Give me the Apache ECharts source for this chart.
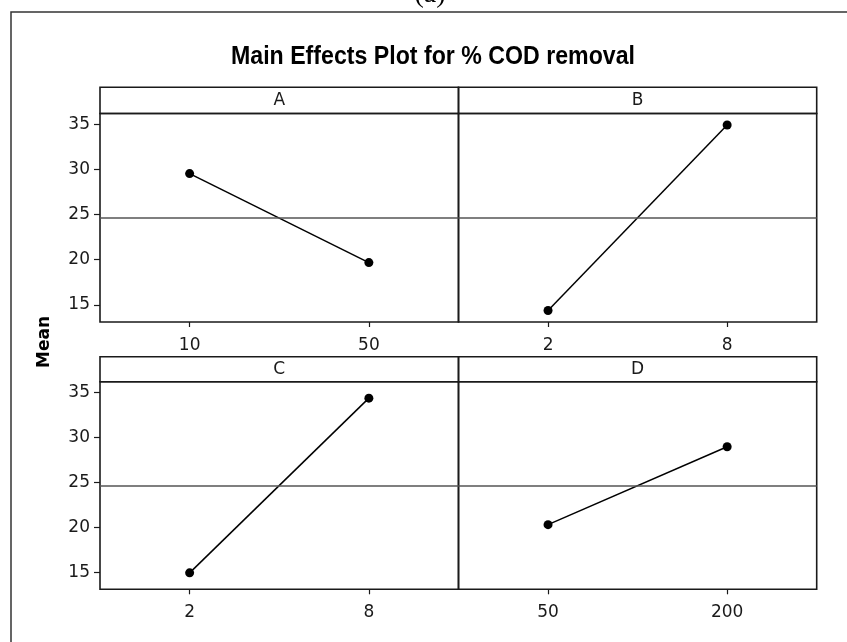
<!DOCTYPE html>
<html>
<head>
<meta charset="utf-8">
<script src="https://cdn.jsdelivr.net/npm/echarts@6/dist/echarts.min.js"></script>
<style>html,body{margin:0;padding:0;background:#fff}#c{width:847px;height:642px}</style>
</head>
<body>
<div id="c"></div>
<script>
// ---- data ----
const panelNames = ['A', 'B', 'C', 'D'];
const levelsA = ['10', '50'];
const levelsB = ['2', '8'];
const levelsC = ['2', '8'];
const levelsD = ['50', '200'];
const meansA = [29.54, 19.68];
const meansB = [14.38, 34.92];
const meansC = [14.93, 34.37];
const meansD = [20.29, 28.96];
const grandMean = 24.64;
const yTicks = [15, 20, 25, 30, 35];
const titleText = 'Main Effects Plot for % COD removal';
const yTitle = 'Mean';
const topLabel = '(a)';

const levels = [levelsA, levelsB, levelsC, levelsD];
const means = [meansA, meansB, meansC, meansD];

// ---- layout ----
const L = 100, MID = 458.5, R = 816.7;
const rows = [
  {hTop: 87.3, top: 113.5, bottom: 322},
  {hTop: 356.7, top: 381.7, bottom: 589.3}
];
const font = 'DejaVu Sans';
const ink = '#1a1a1a';

const grids = [], xAxes = [], yAxes = [], series = [], graphics = [];
for (let i = 0; i < 4; i++) {
  const r = rows[Math.floor(i / 2)];
  const isLeft = i % 2 === 0;
  const x0 = isLeft ? L : MID, x1 = isLeft ? MID : R;
  grids.push({left: x0, top: r.top, width: x1 - x0, height: r.bottom - r.top,
    show: true, borderColor: ink, borderWidth: 1.6, backgroundColor: 'transparent', containLabel: false});
  xAxes.push({type: 'category', gridIndex: i, data: levels[i], boundaryGap: true,
    axisLine: {show: false},
    axisTick: {show: true, alignWithLabel: true, length: 5, lineStyle: {color: ink, width: 1.2}},
    axisLabel: {color: ink, fontFamily: font, fontSize: 17, margin: 15},
    splitLine: {show: false}});
  yAxes.push({type: 'value', gridIndex: i, min: 13.1, max: 36.2,
    axisLine: {show: false},
    axisTick: {show: isLeft, length: 6, customValues: yTicks, lineStyle: {color: ink, width: 1.2}},
    axisLabel: {show: isLeft, customValues: yTicks, color: ink, fontFamily: font, fontSize: 17, margin: 10},
    splitLine: {show: false}});
  series.push({type: 'line', xAxisIndex: i, yAxisIndex: i, data: means[i],
    symbol: 'circle', symbolSize: 9, showSymbol: true,
    lineStyle: {color: '#000', width: 1.5}, itemStyle: {color: '#000'},
    markLine: {silent: true, symbol: 'none', label: {show: false},
      lineStyle: {color: '#555', width: 1.5, type: 'solid'}, data: [{yAxis: grandMean}]},
    animation: false});
  graphics.push({type: 'rect', shape: {x: x0, y: r.hTop, width: x1 - x0, height: r.top - r.hTop},
    style: {fill: 'none', stroke: ink, lineWidth: 1.6}, silent: true});
  graphics.push({type: 'text', x: (x0 + x1) / 2, y: (r.hTop + r.top) / 2,
    style: {text: panelNames[i], fontFamily: font, fontSize: 17, fill: ink, align: 'center', verticalAlign: 'middle'}, silent: true});
}
// outer frame
graphics.push({type: 'rect', shape: {x: 11, y: 12, width: 900, height: 700},
  style: {fill: 'none', stroke: '#333', lineWidth: 1.5}, silent: true, z: -1});
// top caption
graphics.push({type: 'text', x: 430, y: 9,
  style: {text: topLabel, fontFamily: 'Liberation Serif', fontSize: 28, fill: '#000', align: 'center', verticalAlign: 'bottom'}, silent: true});
// y title
graphics.push({type: 'text', x: 45, y: 342, rotation: Math.PI / 2,
  style: {text: yTitle, fontFamily: 'DejaVu Sans', fontWeight: 'bold', fontSize: 17, fill: '#000', align: 'center', verticalAlign: 'middle'}, silent: true});

// title: bold sans, condensed horizontally to the reference's width
const titleFont = 'bold 25px "Liberation Sans"';
const ctx = document.createElement('canvas').getContext('2d');
ctx.font = titleFont;
const titleScale = 404 / ctx.measureText(titleText).width;
graphics.push({type: 'text', x: 433, y: 57, scaleX: titleScale,
  style: {text: titleText, fontFamily: 'Liberation Sans', fontWeight: 'bold', fontSize: 25, fill: '#000', align: 'center', verticalAlign: 'middle'}, silent: true});

const chart = echarts.init(document.getElementById('c'), null, {renderer: 'canvas'});
chart.setOption({
  animation: false,
  backgroundColor: '#fff',
  grid: grids, xAxis: xAxes, yAxis: yAxes, series: series,
  graphic: graphics
});
</script>
</body>
</html>
